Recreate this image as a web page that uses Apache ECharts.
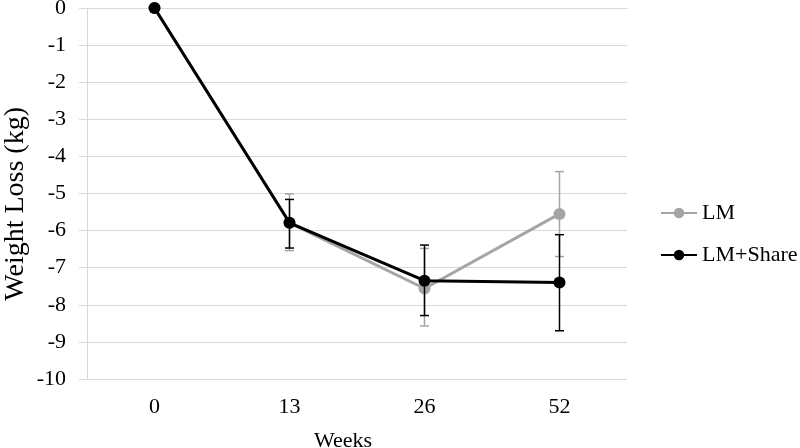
<!DOCTYPE html>
<html><head><meta charset="utf-8">
<script src="https://cdn.jsdelivr.net/npm/echarts@6/dist/echarts.min.js"></script>
<style>html,body{margin:0;padding:0;background:#fff}#c{width:800px;height:448px}</style>
</head><body><div id="c"></div>
<script>
const weeks = ['0', '13', '26', '52'];
const lmMean = [0, -5.79, -7.56, -5.55];
const lmLow = [null, -6.54, -8.57, -6.70];
const lmHigh = [null, -5.01, -6.48, -4.41];
const shareMean = [0, -5.79, -7.35, -7.40];
const shareLow = [null, -6.47, -8.29, -8.70];
const shareHigh = [null, -5.16, -6.39, -6.11];
const yTitle = 'Weight Loss (kg)';
const xTitle = 'Weeks';

const font = 'Liberation Serif, Times New Roman, serif';
const chart = echarts.init(document.getElementById('c'));

function errData(low, high) {
  const out = [];
  low.forEach((l, i) => { if (l !== null) out.push([i, l, high[i]]); });
  return out;
}
function errSeries(name, low, high, color, z) {
  return {
    type: 'custom', name: name + ' err', z: z, silent: true,
    data: errData(low, high),
    encode: { x: 0, y: [1, 2] },
    renderItem: function (params, api) {
      const x = api.value(0);
      const p1 = api.coord([x, api.value(1)]);
      const p2 = api.coord([x, api.value(2)]);
      const hw = 4.5;
      const st = { stroke: color, lineWidth: 1.5 };
      return { type: 'group', children: [
        { type: 'line', shape: { x1: p1[0], y1: p1[1], x2: p2[0], y2: p2[1] }, style: st },
        { type: 'line', shape: { x1: p1[0] - hw, y1: p1[1], x2: p1[0] + hw, y2: p1[1] }, style: st },
        { type: 'line', shape: { x1: p2[0] - hw, y1: p2[1], x2: p2[0] + hw, y2: p2[1] }, style: st }
      ]};
    }
  };
}

chart.setOption({
  animation: false,
  textStyle: { fontFamily: font },
  grid: { left: 87, right: 173, top: 8, bottom: 69, containLabel: false, outerBoundsMode: 'none' },
  legend: {
    orient: 'vertical', left: 655, top: 197, itemGap: 20,
    itemWidth: 36, itemHeight: 13,
    textStyle: { fontFamily: font, fontSize: 22, color: '#000' },
    data: ['LM', 'LM+Share']
  },
  graphic: [
    { type: 'text', left: 2, top: 107, rotation: Math.PI / 2, z: 10,
      style: { text: yTitle, font: '28px ' + font, fill: '#000' } },
    { type: 'text', x: 343, y: 441, z: 10,
      style: { text: xTitle, font: '22px ' + font, fill: '#000', align: 'center', verticalAlign: 'middle' } }
  ],
  xAxis: {
    type: 'category', data: weeks, boundaryGap: true,
    axisLine: { lineStyle: { color: '#D9D9D9', width: 1 } },
    axisTick: { show: false },
    axisLabel: { fontFamily: font, fontSize: 22, color: '#000', margin: 17 }
  },
  yAxis: {
    type: 'value', min: -10, max: 0, interval: 1,
    axisLine: { show: true, lineStyle: { color: '#D9D9D9', width: 1 } },
    axisTick: { show: true, length: 8, lineStyle: { color: '#D9D9D9' } },
    splitLine: { lineStyle: { color: '#D9D9D9', width: 1 } },
    axisLabel: { fontFamily: font, fontSize: 22, color: '#000', margin: 21 }
  },
  series: [
    errSeries('LM', lmLow, lmHigh, '#A5A5A5', 1),
    {
      name: 'LM', type: 'line', data: lmMean, z: 2,
      symbol: 'circle', symbolSize: 12,
      lineStyle: { color: '#A5A5A5', width: 3 },
      itemStyle: { color: '#A5A5A5' }
    },
    errSeries('LM+Share', shareLow, shareHigh, '#000000', 3),
    {
      name: 'LM+Share', type: 'line', data: shareMean, z: 4,
      symbol: 'circle', symbolSize: 12,
      lineStyle: { color: '#000000', width: 3 },
      itemStyle: { color: '#000000' }
    }
  ]
});
</script></body></html>
